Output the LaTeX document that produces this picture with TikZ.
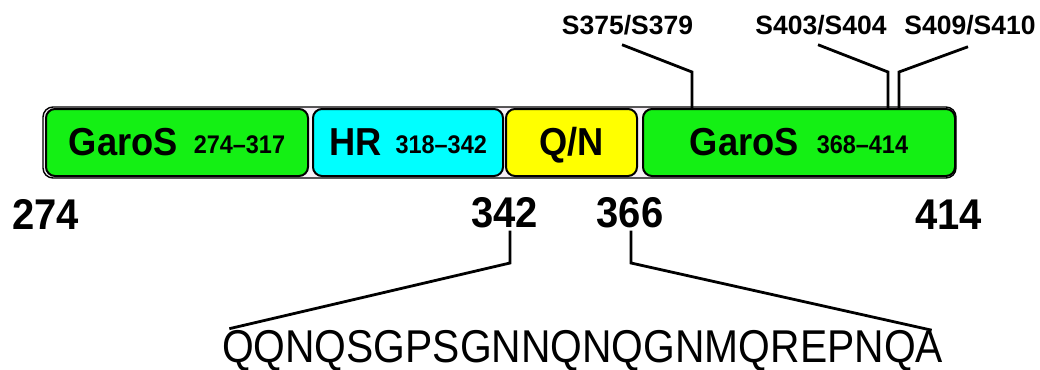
\documentclass[tikz,border=0pt]{standalone}
\usepackage{fontspec}
\setmainfont{Liberation Sans}
\newfontfamily\labfont[FakeStretch=0.93]{Liberation Sans}
\newfontfamily\numfont[FakeStretch=0.92]{Liberation Sans}
\newfontfamily\seqfont[FakeStretch=0.887]{Liberation Sans}
\usetikzlibrary{calc}

\definecolor{garos}{RGB}{20,240,20}
\definecolor{hrcol}{RGB}{0,255,255}
\definecolor{qncol}{RGB}{255,255,0}
\definecolor{barfill}{RGB}{246,240,246}

\newcommand{\domname}[1]{{\labfont\bfseries\fontsize{39}{40}\selectfont #1}}
\newcommand{\domrange}[1]{\raisebox{2pt}{\numfont\bfseries\fontsize{25.5}{26}\selectfont #1}}

\tikzset{
  dombox/.style={draw=black, line width=2pt, rounded corners=9pt,
    minimum height=67pt, inner sep=0pt, text height=25pt, text depth=0pt},
  backbar/.style={draw=black, line width=1.4pt, rounded corners=10pt,
    fill=barfill, minimum height=71pt, minimum width=913pt, inner sep=0pt},
  site/.style={anchor=base, inner sep=0pt,
    font=\bfseries\fontsize{26.5}{27}\selectfont},
  posnum/.style={anchor=base, inner sep=0pt,
    font=\labfont\bfseries\fontsize{43}{44}\selectfont},
  seqtext/.style={anchor=base, inner sep=0pt,
    font=\seqfont\fontsize{46}{47}\selectfont},
  lead/.style={draw=black, line width=2.8pt, line join=miter}
}

\begin{document}
\begin{tikzpicture}[x=1pt, y=-1pt]
\useasboundingbox (0,0) rectangle (1040,369);

% backbone of the protein fragment
\node[backbar] (bar) at (499.5,142.5) {};

% domains
\node[dombox, fill=garos, minimum width=262pt] (g1) at (177,142.5)
  {\domname{GaroS}\hspace{16pt}\domrange{274–317}};
\node[dombox, fill=hrcol, minimum width=190pt] (hr) at (408,142.5)
  {\domname{HR}\hspace{14pt}\domrange{318–342}};
\node[dombox, fill=qncol, minimum width=131pt] (qn) at (571.5,142.5)
  {\domname{Q/N}};
\node[dombox, fill=garos, minimum width=312pt] (g2) at (799,142.5)
  {\domname{GaroS}\hspace{18pt}\domrange{368–414}};

% phosphorylation sites
\node[site] (s1) at (627.5,35) {S375/S379};
\node[site] (s2) at (821,35) {S403/S404};
\node[site] (s3) at (970,35) {S409/S410};

\coordinate (k1) at (692,72);
\coordinate (k2) at (888,72);
\coordinate (k3) at (899,72);
\draw[lead] ([xshift=-5.5pt,yshift=-9pt]s1.south) -- (k1) -- (k1 |- g2.north);
\draw[lead] ([xshift=-3pt,yshift=-9pt]s2.south) -- (k2) -- (k2 |- g2.north);
\draw[lead] ([xshift=-2pt,yshift=-11pt]s3.south) -- (k3) -- (k3 |- g2.north);

% residue numbers
\node[posnum] (p274) at (45.5,229) {274};
\node[posnum] (p342) at (504.5,227) {342};
\node[posnum] (p366) at (630,227) {366};
\node[posnum] (p414) at (948.5,229) {414};

% Q/N-rich stretch
\node[seqtext] (seq) at (582.5,362.5) {QQNQSGPSGNNQNQGNMQREPNQA};

\coordinate (k4) at (510,263);
\coordinate (k5) at (631,263);
\draw[lead] ([xshift=5.5pt,yshift=-3pt]p342.south) -- (k4)
  -- ([xshift=7.5pt,yshift=1.5pt]seq.north west);
\draw[lead] ([xshift=1pt,yshift=-3pt]p366.south) -- (k5)
  -- ([xshift=-11.5pt,yshift=0pt]seq.north east);
\end{tikzpicture}
\end{document}
